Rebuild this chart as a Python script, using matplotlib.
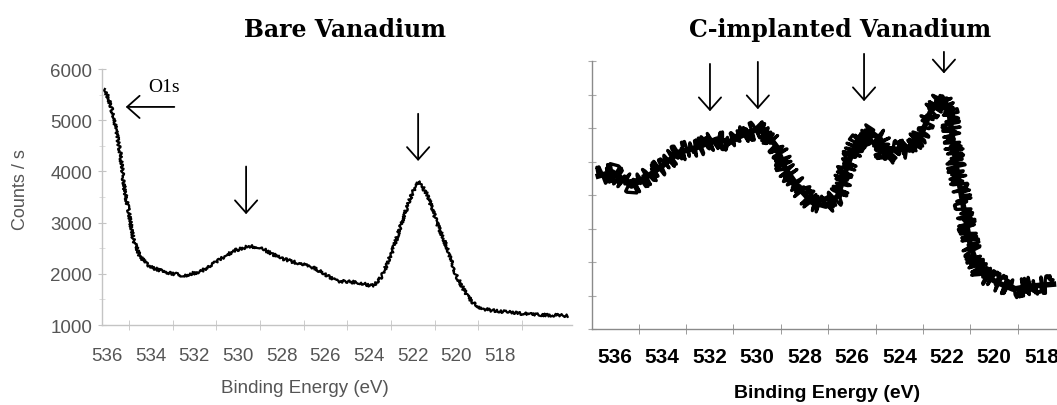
import numpy as np
import matplotlib
matplotlib.use("Agg")
import matplotlib.pyplot as plt
from matplotlib.ticker import MultipleLocator, FixedLocator, NullFormatter

# Bare vanadium: binding energy (eV) / counts per second
bare_energy = [536.1, 535.9, 535.7, 535.4, 535.2, 535.0, 534.8, 534.5, 534.2,
               534.0, 533.3, 532.5, 531.7, 531.0, 530.2, 529.5, 529.0, 528.4,
               528.0, 527.2, 526.6, 526.0, 525.5, 524.5, 523.8, 523.4, 522.9,
               522.4, 522.0, 521.7, 521.3, 520.9, 520.4, 520.0, 519.5, 519.1,
               518.6, 518.1, 516.6, 514.9]
bare_counts = [5610, 5380, 5080, 4380, 3660, 3200, 2680, 2350, 2200,
               2130, 2035, 1960, 2050, 2230, 2450, 2540, 2520, 2380,
               2300, 2200, 2130, 1990, 1860, 1830, 1760, 1960, 2480,
               3130, 3600, 3810, 3520, 3010, 2480, 1960, 1570, 1370,
               1300, 1270, 1210, 1180]

# C-implanted vanadium (arbitrary intensity units)
impl_energy = [536.7, 536.1, 535.3, 534.6, 534.0, 533.3, 532.5, 531.7, 531.1,
               530.7, 530.0, 529.6, 529.2, 528.8, 528.2, 527.7, 527.1, 526.6,
               526.2, 525.8, 525.2, 524.8, 524.6, 524.3, 523.7, 523.1, 522.7,
               522.2, 521.9, 521.6, 521.3, 521.0, 520.6, 519.9, 519.2, 518.5,
               517.5]
impl_counts = [4.57, 4.69, 4.27, 4.57, 4.87, 5.28, 5.43, 5.67, 5.58,
               5.76, 5.97, 5.82, 5.47, 4.78, 4.18, 3.79, 3.67, 3.97,
               4.87, 5.58, 5.88, 5.67, 5.10, 5.37, 5.37, 5.76, 6.47,
               6.93, 6.47, 4.87, 3.67, 2.48, 1.70, 1.40, 1.19, 1.28,
               1.34]

# marked peaks: (energy, arrow tip, arrow tail)
bare_peaks = [(529.63, 3110, 4150), (521.75, 4150, 5180)]
impl_peaks = [(531.99, 6.42, 8.00), (529.97, 6.48, 8.06),
              (525.49, 6.72, 8.30), (522.12, 7.55, 8.36)]
o1s = (535.27, 532.79, 5260)

xticks_bare = list(range(536, 517, -2))
xticks_impl = list(range(536, 517, -2))
yticks_bare = [1000, 2000, 3000, 4000, 5000, 6000]

plt.rcParams["font.family"] = ["Liberation Sans", "DejaVu Sans"]
fig = plt.figure(figsize=(10.57, 4.06), dpi=100)

arrow_kw = dict(arrowstyle="->,head_length=0.45,head_width=0.4",
                color="black", lw=1.3, mutation_scale=20)

# ---- left panel
ax1 = fig.add_axes([0.0965, 0.197, 0.4447, 0.6305])
l1, = ax1.plot(bare_energy, bare_counts, color="black", lw=1.6)
l1.set_sketch_params(scale=1.5, length=2, randomness=3)
ax1.set_xlim(536.23, 514.7)
ax1.set_ylim(1000, 6000)
for s in ["top", "right"]:
    ax1.spines[s].set_visible(False)
for s in ["left", "bottom"]:
    ax1.spines[s].set_color("#c4c4c4")
    ax1.spines[s].set_linewidth(1.0)
ax1.xaxis.set_major_locator(FixedLocator(xticks_bare))
ax1.xaxis.set_minor_locator(FixedLocator(np.arange(535, 516, -2)))
ax1.yaxis.set_major_locator(FixedLocator(yticks_bare))
ax1.yaxis.set_minor_locator(MultipleLocator(500))
ax1.tick_params(axis="x", which="major", length=0, pad=15.5,
                labelsize=13.5, labelcolor="#555555")
ax1.tick_params(axis="x", which="minor", length=7, direction="inout",
                color="#c4c4c4")
ax1.tick_params(axis="y", which="major", length=6, direction="inout",
                color="#c4c4c4", pad=4, labelsize=13.5, labelcolor="#555555")
ax1.tick_params(axis="y", which="minor", length=5, direction="inout",
                color="#d8d8d8")
for e, tip, tail in bare_peaks:
    ax1.annotate("", xy=(e, tip), xytext=(e, tail), arrowprops=arrow_kw)
ax1.annotate("", xy=(o1s[0], o1s[2]), xytext=(o1s[1], o1s[2]),
             arrowprops=arrow_kw)
ax1.text(533.39, 5650, "O1s", family=["Liberation Serif", "DejaVu Serif"],
         fontsize=14, ha="center", va="center")

# ---- right panel: noisy spectrum, solid core plus jittered trace
ax2 = fig.add_axes([0.560, 0.187, 0.440, 0.660])
ax2.plot(impl_energy, impl_counts, color="black", lw=4.0,
         solid_joinstyle="round")
l2, = ax2.plot(impl_energy, impl_counts, color="black", lw=2.4,
               solid_joinstyle="round", solid_capstyle="round")
l2.set_sketch_params(scale=9, length=0.7, randomness=2)
ax2.set_xlim(536.97, 517.35)
ax2.set_ylim(0, 8)
for s in ["top", "right"]:
    ax2.spines[s].set_visible(False)
for s in ["left", "bottom"]:
    ax2.spines[s].set_color("#8a8a8a")
    ax2.spines[s].set_linewidth(1.0)
ax2.xaxis.set_major_locator(FixedLocator(xticks_impl))
ax2.xaxis.set_minor_locator(MultipleLocator(1))
ax2.yaxis.set_major_locator(MultipleLocator(1))
ax2.yaxis.set_major_formatter(NullFormatter())
ax2.tick_params(axis="x", which="major", length=0, pad=13,
                labelsize=15)
for lab in ax2.get_xticklabels():
    lab.set_fontweight("bold")
ax2.tick_params(axis="x", which="minor", length=7, direction="inout",
                color="#8a8a8a")
ax2.tick_params(axis="y", which="major", length=6, direction="inout",
                color="#aaaaaa")
for e, tip, tail in impl_peaks:
    ax2.annotate("", xy=(e, tip), xytext=(e, tail), arrowprops=arrow_kw,
                 annotation_clip=False)

# ---- titles and axis labels
title_font = ["DejaVu Serif"]
fig.text(0.326, 0.926, "Bare Vanadium", family=title_font, fontsize=17,
         fontweight="bold", ha="center", va="center")
fig.text(0.795, 0.926, "C-implanted Vanadium", family=title_font,
         fontsize=17, fontweight="bold", ha="center", va="center")
fig.text(0.019, 0.532, "Counts / s", rotation=90, fontsize=13,
         color="#555555", ha="center", va="center")
fig.text(0.2886, 0.044, "Binding Energy (eV)", fontsize=13.5,
         color="#555555", ha="center", va="center")
fig.text(0.782, 0.032, "Binding Energy (eV)", fontsize=14,
         fontweight="bold", ha="center", va="center")

fig.savefig("out.png", dpi=100)
